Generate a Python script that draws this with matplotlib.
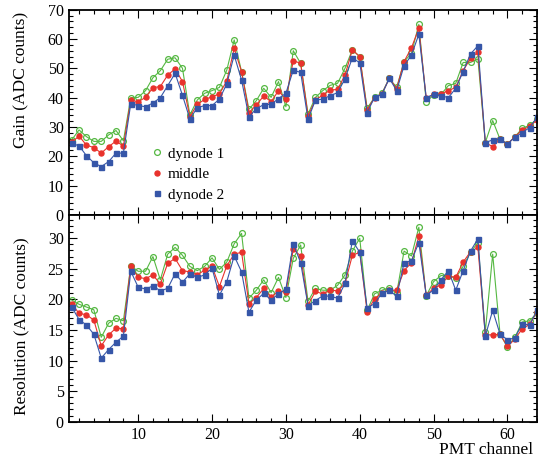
import numpy as np
import matplotlib
matplotlib.use("Agg")
import matplotlib.pyplot as plt
from matplotlib.ticker import MultipleLocator
from matplotlib.lines import Line2D

plt.rcParams['font.family'] = ['Liberation Serif', 'DejaVu Serif']
plt.rcParams['mathtext.fontset'] = 'stix'

channels = np.arange(1, 65)

gain_dyn1 = [25.6, 29.0, 26.7, 25.1, 25.1, 27.3, 28.8, 25.3, 40.0, 40.1,
             42.4, 46.8, 49.2, 53.1, 53.6, 50.0, 34.1, 39.2, 41.5, 42.4,
             43.5, 49.4, 59.7, 48.9, 36.0, 39.0, 43.2, 40.1, 45.5, 36.9,
             56.0, 51.7, 34.4, 40.1, 42.4, 44.2, 44.9, 50.0, 56.3, 54.0,
             36.4, 40.1, 41.5, 46.6, 43.5, 52.3, 55.1, 65.0, 38.6, 40.9,
             41.1, 44.1, 44.9, 52.0, 52.0, 53.2, 24.7, 32.2, 25.8, 24.2,
             26.7, 29.5, 30.6, 32.6]
gain_middle = [24.8, 26.9, 23.8, 23.0, 21.1, 23.3, 25.2, 23.5, 39.2, 38.6,
               40.1, 43.4, 43.8, 47.7, 49.8, 45.5, 33.5, 37.7, 39.4, 40.3,
               41.3, 45.7, 56.8, 48.9, 34.9, 37.5, 40.6, 38.6, 42.4, 39.4,
               52.6, 51.7, 33.8, 39.2, 40.9, 42.6, 42.8, 47.7, 56.3, 54.0,
               35.8, 40.0, 41.2, 46.6, 43.1, 52.3, 57.0, 63.6, 39.8, 41.1,
               41.3, 42.4, 43.5, 49.2, 53.4, 55.5, 24.7, 23.3, 25.8, 24.2,
               26.6, 29.0, 30.2, 32.4]
gain_dyn2 = [24.4, 23.6, 20.2, 17.8, 16.5, 18.2, 21.1, 21.1, 38.0, 37.3,
             36.9, 38.2, 40.0, 44.1, 48.3, 40.8, 32.7, 36.6, 37.3, 37.3,
             39.5, 44.7, 54.5, 46.0, 33.4, 36.3, 37.6, 37.7, 39.7, 41.5,
             49.4, 48.6, 32.6, 39.2, 39.5, 40.7, 41.7, 46.4, 53.6, 51.9,
             34.9, 40.1, 41.1, 46.6, 42.4, 50.9, 54.5, 61.6, 40.0, 41.1,
             40.7, 40.0, 43.2, 48.9, 54.9, 57.7, 24.7, 25.6, 25.8, 24.2,
             26.5, 28.1, 29.8, 33.3]

res_dyn1 = [19.9, 19.2, 18.75, 18.3, 13.8, 16.1, 16.9, 16.5, 25.5, 24.6,
            24.6, 27.0, 23.2, 27.4, 28.5, 27.2, 25.4, 24.7, 25.4, 26.8,
            24.9, 26.1, 29.1, 30.8, 20.2, 21.5, 23.2, 21.1, 23.6, 20.3,
            26.7, 28.9, 19.7, 21.8, 21.5, 21.5, 22.3, 24.0, 27.9, 30.0,
            18.2, 20.9, 21.5, 21.9, 21.0, 27.9, 27.1, 31.8, 20.6, 22.9,
            23.9, 23.8, 23.5, 25.4, 27.7, 29.3, 14.7, 27.4, 14.3, 12.2,
            13.8, 16.3, 16.5, 17.8]
res_middle = [19.3, 17.7, 17.5, 16.6, 12.4, 14.2, 15.3, 15.2, 25.5, 23.6,
              23.4, 24.0, 22.5, 25.9, 26.7, 24.7, 24.5, 24.0, 24.8, 25.4,
              22.1, 25.5, 27.4, 27.7, 19.3, 20.3, 21.8, 20.4, 21.3, 21.2,
              28.2, 27.1, 19.1, 21.3, 20.9, 21.5, 21.4, 22.6, 27.2, 27.7,
              18.0, 20.1, 21.0, 21.5, 21.5, 24.7, 26.0, 30.3, 20.7, 21.8,
              22.4, 23.8, 23.6, 26.1, 27.8, 28.5, 14.2, 14.2, 14.3, 12.3,
              13.5, 15.2, 15.9, 18.0]
res_dyn2 = [18.75, 16.7, 15.8, 14.3, 10.4, 11.8, 13.0, 14.0, 24.6, 22.0,
            21.7, 22.2, 21.4, 21.8, 24.2, 22.8, 24.2, 23.6, 24.0, 25.1,
            20.7, 22.9, 27.1, 24.5, 17.9, 19.9, 21.0, 19.9, 20.9, 21.7,
            29.1, 26.0, 19.0, 19.8, 20.6, 20.5, 20.2, 22.6, 29.6, 27.7,
            18.6, 19.3, 21.0, 21.5, 20.5, 26.0, 26.3, 29.3, 20.7, 21.5,
            23.2, 24.7, 21.5, 24.7, 27.9, 29.9, 14.0, 18.2, 14.3, 13.4,
            13.7, 16.0, 15.8, 18.2]

series_labels = ["dynode 1", "middle", "dynode 2"]
colors = ["#55b842", "#e8322c", "#3656a8"]

W, H = 538, 461
fig = plt.figure(figsize=(W / 100, H / 100), dpi=100)

left = 68.5 / W
width = (537 - 68.5) / W
ax1 = fig.add_axes([left, 1 - 215 / H, width, (215 - 9.67) / H])
ax2 = fig.add_axes([left, 1 - 421.7 / H, width, (421.7 - 215) / H])

def style_series(ax, ys):
    kw = dict(lw=0.8, clip_on=True)
    ax.plot(channels, ys[0], color=colors[0], marker='o', ms=4.2,
            mfc='none', mec=colors[0], mew=0.9, **kw)
    ax.plot(channels, ys[1], color=colors[1], marker='o', ms=3.6,
            mfc=colors[1], mec=colors[1], **kw)
    ax.plot(channels, ys[2], color=colors[2], marker='s', ms=3.6,
            mfc=colors[2], mec=colors[2], **kw)

style_series(ax1, [gain_dyn1, gain_middle, gain_dyn2])
style_series(ax2, [res_dyn1, res_middle, res_dyn2])

xlim = (0.567, 64.0)
for ax in (ax1, ax2):
    ax.set_xlim(*xlim)
    ax.xaxis.set_major_locator(MultipleLocator(10))
    ax.xaxis.set_minor_locator(MultipleLocator(2))
    ax.tick_params(which='both', direction='in', top=True, right=True,
                   labelsize=11.5, width=0.8, colors='black')
    ax.tick_params(which='major', length=5.8)
    ax.tick_params(which='minor', length=3.0)
    for s in ax.spines.values():
        s.set_linewidth(1.3)

ax1.set_ylim(0, 70)
ax1.yaxis.set_major_locator(MultipleLocator(10))
ax1.yaxis.set_minor_locator(MultipleLocator(2))
ax1.tick_params(labelbottom=False)

ax2.set_ylim(0, 33.8)
ax2.yaxis.set_major_locator(MultipleLocator(5))
ax2.yaxis.set_minor_locator(MultipleLocator(1))

fig.text(21.7 / W, 1 - 80 / H, "Gain (ADC counts)", rotation=90,
         ha='center', va='center', fontsize=12.5)
fig.text(21.7 / W, 1 - 325.7 / H, "Resolution (ADC counts)", rotation=90,
         ha='center', va='center', fontsize=12.5)
fig.text(533 / W, 1 - 450 / H, "PMT channel", ha='right', va='center',
         fontsize=12.5)

handles = [
    Line2D([], [], ls='none', marker='o', ms=4.2, mfc='none', mec=colors[0], mew=0.9),
    Line2D([], [], ls='none', marker='o', ms=3.6, mfc=colors[1], mec=colors[1]),
    Line2D([], [], ls='none', marker='s', ms=3.6, mfc=colors[2], mec=colors[2]),
]
ax1.legend(handles, series_labels, loc='upper left',
           bbox_to_anchor=((151 - 68.5) / (537 - 68.5), (215 - 147) / (215 - 9.67)),
           frameon=False, fontsize=11, handlelength=0.8, handletextpad=0.3,
           labelspacing=0.45, borderpad=0, borderaxespad=0)

fig.savefig("out.png", dpi=100)
